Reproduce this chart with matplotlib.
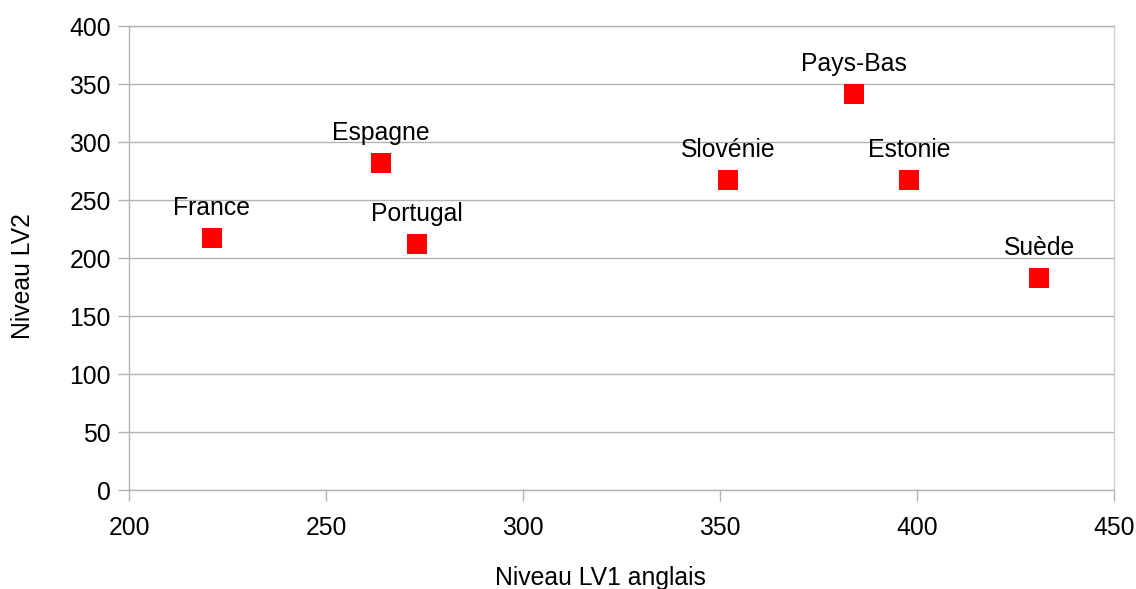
import matplotlib
matplotlib.use("Agg")
import matplotlib.pyplot as plt

countries = ["France", "Espagne", "Portugal", "Slovénie", "Pays-Bas", "Estonie", "Suède"]
lv1_anglais = [221, 264, 273, 352, 384, 398, 431]
lv2 = [217, 282, 212, 267, 341, 267, 183]

x_ticks = [200, 250, 300, 350, 400, 450]
y_ticks = [0, 50, 100, 150, 200, 250, 300, 350, 400]

plt.rcParams["font.family"] = ["Liberation Sans", "DejaVu Sans"]
GRID = "#b3b3b3"
FS = 17.8

fig = plt.figure(figsize=(11.36, 5.89), dpi=100)
ax = fig.add_axes([129 / 1136, 1 - 490 / 589, 985 / 1136, 464 / 589])

ax.plot(lv1_anglais, lv2, linestyle="none", marker="s", markersize=14.4,
        color="#ff0000", markeredgewidth=0, zorder=3)

for name, x, y in zip(countries, lv1_anglais, lv2):
    ax.annotate(name, (x, y), xytext=(0, 23), textcoords="offset pixels",
                ha="center", va="baseline", fontsize=FS, color="black")

ax.set_xlim(200, 450)
ax.set_ylim(0, 400)
ax.set_xticks(x_ticks)
ax.set_yticks(y_ticks)
ax.tick_params(axis="both", labelsize=FS, color=GRID, length=8, width=1)
ax.tick_params(axis="y", pad=5)
ax.tick_params(axis="x", pad=10.5)

ax.grid(axis="y", color=GRID, linewidth=1)
ax.set_axisbelow(True)
for side, spine in ax.spines.items():
    spine.set_color(GRID)
    spine.set_linewidth(1)
ax.spines["right"].set_color("#d0d0d0")

ax.set_xlabel("Niveau LV1 anglais", fontsize=FS, va="center")
ax.set_ylabel("Niveau LV2", fontsize=FS, va="center")
ax.xaxis.set_label_coords(0.479, -0.19)
ax.yaxis.set_label_coords(-0.108, 0.461)

fig.savefig("out.png", dpi=100)
